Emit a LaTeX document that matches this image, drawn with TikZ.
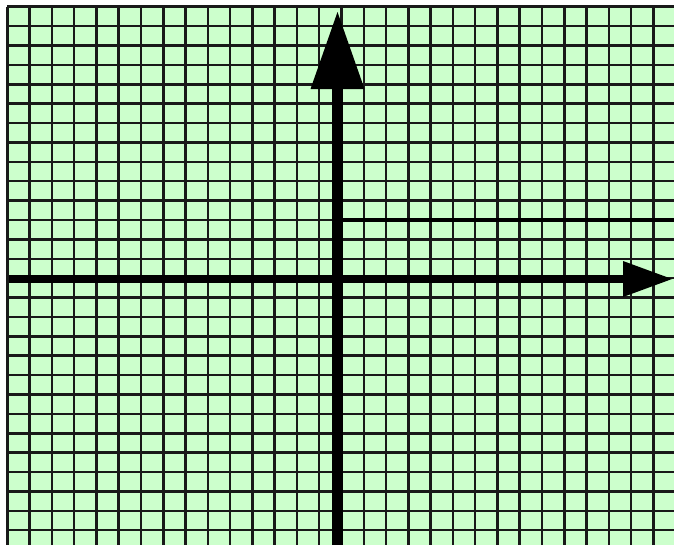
\documentclass[tikz,border=0pt]{standalone}
\usepackage{tikz}
\usetikzlibrary{arrows.meta}
\definecolor{paper}{RGB}{204,255,204}

\begin{document}
\begin{tikzpicture}[x=1pt, y=-1pt,
  sheet/.style={fill=paper},
  gridline/.style={draw=black!90, line width=2.5pt},
  boldline/.style={draw=black, line width=3.6pt},
  yaxis/.style={draw=black, line width=11.5pt,
                -{Triangle[length=77pt, width=54pt, line width=0pt]}},
  xaxis/.style={draw=black, line width=8pt,
                -{Triangle[length=49pt, width=36pt, line width=0pt]}}
]
  \useasboundingbox (0,0) rectangle (674,544);
  \clip (0,0) rectangle (674,544);

  % graph paper
  \fill[sheet] (7.3,6.7) rectangle (680,550);
  \foreach \i in {0,...,29}
    \draw[gridline] ({7.3+22.28*\i},6.7) -- ({7.3+22.28*\i},550);
  \foreach \j in {0,...,27}
    \draw[gridline] (7.3,{6.7+19.39*\j}) -- (680,{6.7+19.39*\j});

  % axes
  \coordinate (origin) at (337.5,279);
  \coordinate (xstart) at (9,279);
  \coordinate (xend)   at (672,279);
  \coordinate (ystart) at (337.5,550);
  \coordinate (yend)   at (337.5,12);
  \coordinate (rowend) at (680,220);

  \draw[boldline] (origin |- rowend) -- (rowend);
  \draw[xaxis] (xstart) -- (xend);
  \draw[yaxis] (ystart) -- (yend);
\end{tikzpicture}
\end{document}
